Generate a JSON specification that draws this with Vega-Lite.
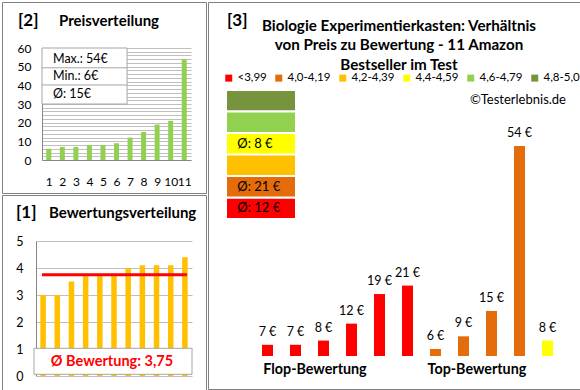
{
  "$schema": "https://vega.github.io/schema/vega-lite/v6.json",
  "padding": {"left": 1, "top": 1, "right": 1, "bottom": 1},
  "background": "#ffffff",
  "config": {"font": "Lato", "view": {"stroke": "#808080", "strokeWidth": 1}, "text": {"color": "#000000"}},
  "datasets": {
    "produkte": [
      {"rank": 1, "rating": 3.0, "price": 7, "klasse": "<3,99"},
      {"rank": 2, "rating": 3.0, "price": 7, "klasse": "<3,99"},
      {"rank": 3, "rating": 3.5, "price": 8, "klasse": "<3,99"},
      {"rank": 4, "rating": 3.7, "price": 12, "klasse": "<3,99"},
      {"rank": 5, "rating": 3.7, "price": 19, "klasse": "<3,99"},
      {"rank": 6, "rating": 3.7, "price": 21, "klasse": "<3,99"},
      {"rank": 7, "rating": 4.0, "price": 6, "klasse": "4,0-4,19"},
      {"rank": 8, "rating": 4.1, "price": 9, "klasse": "4,0-4,19"},
      {"rank": 9, "rating": 4.1, "price": 15, "klasse": "4,0-4,19"},
      {"rank": 10, "rating": 4.1, "price": 54, "klasse": "4,0-4,19"},
      {"rank": 11, "rating": 4.4, "price": 8, "klasse": "4,4-4,59"}
    ],
    "klassen": [
      {"klasse": "4,8-5,0"}, {"klasse": "4,6-4,79"}, {"klasse": "4,4-4,59"},
      {"klasse": "4,2-4,39"}, {"klasse": "4,0-4,19"}, {"klasse": "<3,99"}
    ]
  },
  "spacing": 0,
  "hconcat": [
    {
      "spacing": 0,
      "vconcat": [
        {
          "width": 204,
          "height": 191,
          "layer": [
            {
              "data": {"name": "produkte"},
              "transform": [{"window": [{"op": "row_number", "as": "preisrang"}], "sort": [{"field": "price", "order": "ascending"}]}],
              "mark": {"type": "bar", "width": 5, "color": "#92D050"},
              "encoding": {
                "x": {"field": "preisrang", "type": "quantitative",
                  "scale": {"domain": [0.5, 11.5], "range": [40, 189], "nice": false, "zero": false, "padding": 0},
                  "axis": {"orient": "bottom", "offset": -33, "values": [1,2,3,4,5,6,7,8,9,10,11], "tickCount": 100, "format": "d", "ticks": false, "grid": false, "domainColor": "#868686", "labelPadding": 16, "labelFontSize": 12, "labelColor": "#000000", "title": null, "labelFlush": false, "labelOverlap": false, "labelBound": false}},
                "y": {"field": "price", "type": "quantitative",
                  "scale": {"domain": [0, 60], "range": [158, 46], "nice": false, "zero": false},
                  "axis": {"orient": "left", "offset": -40, "values": [0,2,4,6,8,10,12,14,16,18,20,22,24,26,28,30,32,34,36,38,40,42,44,46,48,50,52,54,56,58,60], "tickCount": 100, "format": "d", "labelExpr": "datum.value % 10 === 0 ? datum.label : ''", "ticks": false, "grid": true, "gridColor": "#BFBFBF", "domainColor": "#868686", "labelPadding": 11, "labelFontSize": 12, "labelColor": "#000000", "title": null, "labelOverlap": false}}
              }
            },
            {
              "data": {"values": [{}]},
              "mark": {"type": "rect", "fill": "#ffffff", "stroke": "#A6A6A6", "strokeWidth": 1},
              "encoding": {"x": {"datum": 0.5}, "x2": {"datum": 6.78}, "y": {"datum": 60}, "y2": {"datum": 30}}
            },
            {
              "data": {"values": [{}]},
              "mark": {"type": "rule", "color": "#A6A6A6"},
              "encoding": {"x": {"datum": 0.5}, "x2": {"datum": 6.78}, "y": {"datum": 49.4}}
            },
            {
              "data": {"values": [{}]},
              "mark": {"type": "rule", "color": "#A6A6A6"},
              "encoding": {"x": {"datum": 0.5}, "x2": {"datum": 6.78}, "y": {"datum": 40.2}}
            },
            {
              "data": {"values": [{}]},
              "mark": {"type": "text", "text": ["Max.: 54€", "Min.: 6€", "Ø: 15€"], "align": "left", "baseline": "top", "fontSize": 12.5, "lineHeight": 17.5},
              "encoding": {"x": {"datum": 1.31}, "y": {"datum": 57.4}}
            },
            {
              "data": {"values": [{}]},
              "mark": {"type": "text", "text": "[2]", "align": "left", "baseline": "middle", "fontSize": 17, "fontWeight": "bold"},
              "encoding": {"x": {"datum": -1.27}, "y": {"datum": 74.5}}
            },
            {
              "data": {"values": [{}]},
              "mark": {"type": "text", "text": "Preisverteilung", "align": "left", "baseline": "middle", "fontSize": 15, "fontWeight": "bold"},
              "encoding": {"x": {"datum": 1.755}, "y": {"datum": 74.5}}
            }
          ]
        },
        {
          "width": 204,
          "height": 196,
          "layer": [
            {
              "data": {"name": "produkte"},
              "mark": {"type": "bar", "width": 5.5, "color": "#FFC000"},
              "encoding": {
                "x": {"field": "rank", "type": "quantitative",
                  "scale": {"domain": [0.5, 11.5], "range": [34, 190], "nice": false, "zero": false, "padding": 0},
                  "axis": null},
                "y": {"field": "rating", "type": "quantitative",
                  "scale": {"domain": [0, 5], "range": [181, 46], "nice": false, "zero": false},
                  "axis": {"orient": "left", "offset": -34, "tickCount": 25, "format": "d", "labelExpr": "datum.value % 1 === 0 ? datum.label : ''", "ticks": false, "grid": true, "gridColor": "#BFBFBF", "domainColor": "#868686", "labelPadding": 13, "labelFontSize": 12.5, "labelColor": "#000000", "title": null, "labelOverlap": false}}
              }
            },
            {
              "data": {"values": [{}]},
              "mark": {"type": "rule", "color": "#FF0000", "strokeWidth": 3},
              "encoding": {"x": {"datum": 0.92}, "x2": {"datum": 11.15}, "y": {"datum": 3.75}}
            },
            {
              "data": {"values": [{}]},
              "mark": {"type": "rect", "fill": "#ffffff", "stroke": "#A6A6A6", "strokeWidth": 1},
              "encoding": {"x": {"datum": 0.359}, "x2": {"datum": 11.5}, "y": {"datum": 1.026}, "y2": {"datum": 0.063}}
            },
            {
              "data": {"values": [{}]},
              "mark": {"type": "text", "text": "Ø Bewertung: 3,75", "align": "center", "baseline": "middle", "fontSize": 14.5, "fontWeight": "bold", "color": "#FF0000"},
              "encoding": {"x": {"datum": 5.86}, "y": {"datum": 0.507}}
            },
            {
              "data": {"values": [{}]},
              "mark": {"type": "text", "text": "[1]", "align": "left", "baseline": "middle", "fontSize": 17, "fontWeight": "bold"},
              "encoding": {"x": {"datum": -0.91}, "y": {"datum": 6.03}}
            },
            {
              "data": {"values": [{}]},
              "mark": {"type": "text", "text": "Bewertungsverteilung", "align": "left", "baseline": "middle", "fontSize": 15, "fontWeight": "bold"},
              "encoding": {"x": {"datum": 1.417}, "y": {"datum": 6.03}}
            }
          ]
        }
      ]
    },
    {
      "width": 373,
      "height": 387,
      "resolve": {"scale": {"y": "independent"}},
      "layer": [
        {
          "layer": [
            {
              "data": {"name": "produkte"},
              "mark": {"type": "bar", "width": 11},
              "encoding": {
                "x": {"field": "rank", "type": "quantitative", "scale": {"domain": [0.5, 11.5], "range": [45.5, 353.5], "nice": false, "zero": false, "padding": 0}, "axis": null},
                "y": {"field": "price", "type": "quantitative", "scale": {"domain": [4.35, 54], "range": [354, 144], "nice": false, "zero": false}, "axis": null},
                "y2": {"datum": 4.35},
                "color": {"field": "klasse", "type": "nominal",
                  "scale": {"domain": ["<3,99", "4,0-4,19", "4,2-4,39", "4,4-4,59", "4,6-4,79", "4,8-5,0"], "range": ["#FF0000", "#E46C0A", "#FFC000", "#FFFF00", "#92D050", "#77933C"]},
                  "legend": {"orient": "none", "legendX": 221, "legendY": 70, "direction": "horizontal", "title": null, "symbolType": "square", "symbolSize": 49, "symbolStrokeWidth": 0, "labelFontSize": 11.5, "labelColor": "#000000", "columnPadding": 6, "labelOffset": 3, "padding": 0}}
              }
            },
            {
              "data": {"name": "produkte"},
              "mark": {"type": "text", "text": {"expr": "datum.price + ' €'"}, "align": "center", "baseline": "middle", "dy": -13, "fontSize": 12.5},
              "encoding": {
                "x": {"field": "rank", "type": "quantitative", "axis": null},
                "y": {"field": "price", "type": "quantitative", "axis": null}
              }
            },
            {
              "data": {"values": [{}]},
              "mark": {"type": "text", "text": "[3]", "align": "left", "baseline": "middle", "fontSize": 17, "fontWeight": "bold"},
              "encoding": {"x": {"datum": -0.446, "axis": null}, "y": {"datum": 83.55, "axis": null}}
            },
            {
              "data": {"values": [{}]},
              "mark": {"type": "text", "text": ["Biologie Experimentierkasten: Verhältnis", "von Preis zu Bewertung - 11 Amazon", "Bestseller im Test"], "align": "center", "baseline": "top", "fontSize": 15.2, "fontWeight": "bold", "lineHeight": 19.3},
              "encoding": {"x": {"datum": 5.696, "axis": null}, "y": {"datum": 84.0, "axis": null}}
            },
            {
              "data": {"values": [{}]},
              "mark": {"type": "text", "text": "©Testerlebnis.de", "align": "right", "baseline": "middle", "fontSize": 13},
              "encoding": {"x": {"datum": 11.66, "axis": null}, "y": {"datum": 64.88, "axis": null}}
            },
            {
              "data": {"values": [{}]},
              "mark": {"type": "text", "text": "Flop-Bewertung", "align": "center", "baseline": "middle", "fontSize": 14.3, "fontWeight": "bold"},
              "encoding": {"x": {"datum": 2.696, "axis": null}, "y": {"datum": 1.04, "axis": null}}
            },
            {
              "data": {"values": [{}]},
              "mark": {"type": "text", "text": "Top-Bewertung", "align": "center", "baseline": "middle", "fontSize": 14.3, "fontWeight": "bold"},
              "encoding": {"x": {"datum": 8.48, "axis": null}, "y": {"datum": 1.04, "axis": null}}
            }
          ]
        },
        {
          "layer": [
            {
              "data": {"name": "klassen"},
              "mark": {"type": "rect"},
              "encoding": {
                "x": {"datum": -0.446, "axis": null},
                "x2": {"datum": 1.982},
                "y": {"field": "klasse", "type": "nominal", "scale": {"domain": ["4,8-5,0", "4,6-4,79", "4,4-4,59", "4,2-4,39", "4,0-4,19", "<3,99"], "range": [89, 216], "paddingInner": 0.1, "paddingOuter": 0}, "axis": null},
                "color": {"field": "klasse", "type": "nominal"}
              }
            },
            {
              "data": {"name": "produkte"},
              "transform": [{"aggregate": [{"op": "mean", "field": "price", "as": "avg"}], "groupby": ["klasse"]}],
              "mark": {"type": "text", "text": {"expr": "'Ø: ' + round(datum.avg) + ' €'"}, "align": "left", "baseline": "middle", "fontSize": 13},
              "encoding": {
                "x": {"datum": -0.08, "axis": null},
                "y": {"field": "klasse", "type": "nominal", "axis": null}
              }
            }
          ]
        }
      ]
    }
  ]
}
